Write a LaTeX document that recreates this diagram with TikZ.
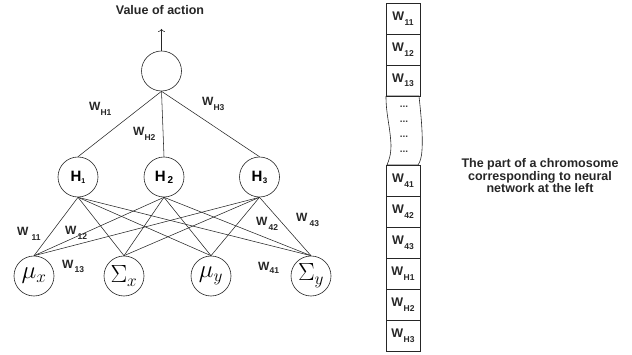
\documentclass[tikz,border=0pt]{standalone}
\usepackage{fontspec}
\setmainfont{Liberation Sans}
\usetikzlibrary{arrows.meta}
\newcommand\wlab[3]{W\kern#2\raisebox{-#3}{\fontsize{8.5}{9}\selectfont #1}}
\newcommand\hlab[3]{\fontsize{15}{15}\selectfont\bfseries H\kern#3\raisebox{-2pt}{\fontsize{#2}{#2}\selectfont #1}}
\tikzset{
  neuron/.style={draw=black!85, line width=0.6pt, circle, minimum size=40pt, inner sep=0pt},
  conn/.style={draw=black!85, line width=0.55pt},
  wl/.style={font=\fontsize{12}{12}\selectfont\bfseries, text=black!85, inner sep=0pt, anchor=base west},
  cell/.style={draw=black!85, line width=0.6pt, minimum width=34pt, minimum height=31pt, inner sep=0pt,
     font=\fontsize{12.5}{12.5}\selectfont\bfseries, text=black!85},
  mathlab/.style={font=\fontsize{25}{25}\selectfont}
}
\begin{document}
\begin{tikzpicture}[x=1pt,y=-1pt]
\useasboundingbox (0,0) rectangle (632,355);
% output node
\node[neuron] (out) at (161.5,71) {};
\coordinate (val) at (161.5,29);
\draw[conn,-{To[length=3pt,width=7pt]}] (out.north) -- (val);
\node[font=\fontsize{12.5}{13}\selectfont\bfseries, text=black!85] (title) at (160,10) {Value of action};
% hidden
\node[neuron] (h1) at (78,177) {\hlab{1}{7}{0pt}};
\node[neuron] (h2) at (164,177) {\hlab{2}{10}{2pt}};
\node[neuron] (h3) at (259.5,177) {\hlab{3}{8}{0.5pt}};
% inputs
\node[neuron,mathlab] (i1) at (34,276) {$\mu_x$};
\node[neuron,mathlab] (i2) at (124,276) {$\Sigma_x$};
\node[neuron,mathlab] (i3) at (211,276) {$\mu_y$};
\node[neuron,mathlab] (i4) at (311,276) {$\Sigma_y$};
% connectors
\foreach \h in {h1,h2,h3} \draw[conn] (out.south) -- (\h.north);
\foreach \h in {h1,h2,h3}
  \foreach \i in {i1,i2,i3,i4}
    \draw[conn] (\h.south) -- (\i.north);
% weight labels
\node[wl] (wh1) at (89,111) {\wlab{H1}{0pt}{5pt}};
\node[wl] (wh2) at (133,136) {\wlab{H2}{0pt}{5pt}};
\node[wl] (wh3) at (202,106) {\wlab{H3}{0pt}{5pt}};
\node[wl] (w11) at (17,236) {\wlab{11}{3pt}{5pt}};
\node[wl] (w12) at (65,235) {\wlab{12}{1pt}{5pt}};
\node[wl] (w13) at (62,269) {\wlab{13}{1pt}{4pt}};
\node[wl] (w42) at (256,226) {\wlab{42}{1pt}{5pt}};
\node[wl] (w43) at (296,222) {\wlab{43}{2pt}{5pt}};
\node[wl] (w41) at (258,271) {\wlab{41}{0pt}{3pt}};
% chromosome
\node[cell] (c1) at (403,18.5) {\wlab{11}{0.5pt}{4.5pt}};
\node[cell] (c2) at (403,49.5) {\wlab{12}{0.5pt}{4.5pt}};
\node[cell] (c3) at (403,80.5) {\wlab{13}{0.5pt}{4.5pt}};
\draw[draw=black!85, line width=0.6pt]
  (386,96) -- (419,96)
  .. controls (421,115) and (423,135) .. (422,150)
  .. controls (421.5,158) and (420,162) .. (418,165)
  -- (387,165)
  .. controls (389,160) and (391,155) .. (391,145)
  .. controls (390,125) and (386,115) .. (386,96);
\foreach \y in {109,124,139,154}
  \node[font=\fontsize{10}{10}\selectfont\bfseries, text=black!75, inner sep=0pt] at (404,\y-2) {...};
\node[cell] (c4) at (403,180.5) {\wlab{41}{0.5pt}{4.5pt}};
\node[cell] (c5) at (403,211.5) {\wlab{42}{0.5pt}{4.5pt}};
\node[cell] (c6) at (403,242.5) {\wlab{43}{0.5pt}{4.5pt}};
\node[cell] (c7) at (403,273.5) {\wlab{H1}{0.5pt}{4.5pt}};
\node[cell] (c8) at (403,304.5) {\wlab{H2}{0.5pt}{4.5pt}};
\node[cell] (c9) at (403,335.5) {\wlab{H3}{0.5pt}{4.5pt}};
% description
\node[align=center, font=\fontsize{12.5}{12.5}\selectfont\bfseries, text=black!85] (desc) at (540,176)
  {The part of a chromosome\\corresponding to neural\\network at the left};
\end{tikzpicture}
\end{document}
